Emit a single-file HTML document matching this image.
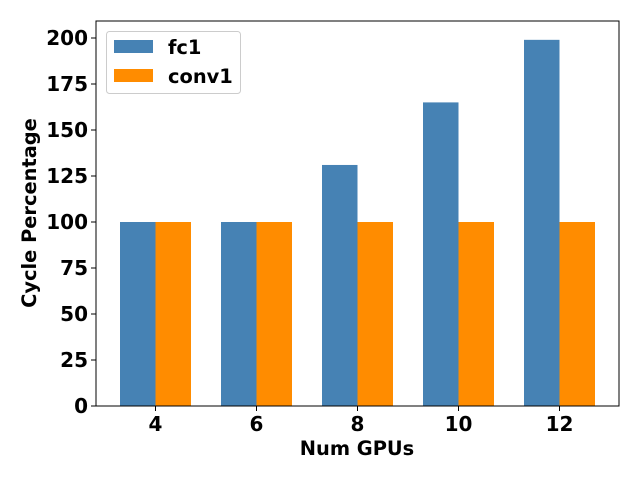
<!DOCTYPE html>
<html><head><meta charset="utf-8"><style>
body{margin:0;background:#fff}
svg text{font-family:"DejaVu Sans","Liberation Sans",sans-serif;font-weight:bold;fill:#000}
</style></head><body>
<svg id="chart" width="640" height="480" xmlns="http://www.w3.org/2000/svg">
<g id="bars"></g>
<rect x="96" y="21" width="523" height="385" fill="none" stroke="#000" stroke-width="1"/>
<g id="axes"></g>
<text x="357" y="455" font-size="19.4" text-anchor="middle">Num GPUs</text>
<text transform="translate(36,213) rotate(-90)" font-size="19.4" text-anchor="middle">Cycle Percentage</text>
<g>
<rect x="106.5" y="31.5" width="134" height="62" rx="3" fill="#fff" fill-opacity="0.8" stroke="#ccc"/>
<rect x="114" y="40" width="39" height="13" fill="#4682b4"/>
<text x="168" y="54" font-size="19.4">fc1</text>
<rect x="114" y="69" width="39" height="13" fill="#ff8c00"/>
<text x="168" y="83" font-size="19.4">conv1</text>
</g>
</svg>
<script>
const categories=["4","6","8","10","12"];
const fc1=[100,100,131,165,199];
const conv1=[100,100,100,100,100];
const yTicks=[0,25,50,75,100,125,150,175,200];
const NS="http://www.w3.org/2000/svg";
function xs(i){return 155.5+101*i;}
function ys(v){return 406-1.84*v;}
const bars=document.getElementById('bars'),axes=document.getElementById('axes');
function mk(t,a,p){const e=document.createElementNS(NS,t);for(const k in a)e.setAttribute(k,a[k]);p.appendChild(e);return e;}
categories.forEach((c,i)=>{
  const b1=mk('rect',{x:xs(i)-35.5,y:ys(fc1[i]),width:35.5,height:ys(0)-ys(fc1[i]),fill:'#4682b4'},bars);
  
  
  const b2=mk('rect',{x:xs(i),y:ys(conv1[i]),width:35.5,height:ys(0)-ys(conv1[i]),fill:'#ff8c00'},bars);
  
  
  mk('line',{x1:xs(i),x2:xs(i),y1:406,y2:411,stroke:'#000'},axes);
  const t=mk('text',{x:xs(i),y:431,'font-size':20,'text-anchor':'middle'},axes);
  t.textContent=c;
  
  
});
yTicks.forEach(v=>{
  mk('line',{x1:91,x2:96,y1:ys(v),y2:ys(v),stroke:'#000'},axes);
  const t=mk('text',{x:88,y:ys(v)+7,'font-size':20,'text-anchor':'end'},axes);
  t.textContent=v;
  
  
});
</script>
</body></html>
